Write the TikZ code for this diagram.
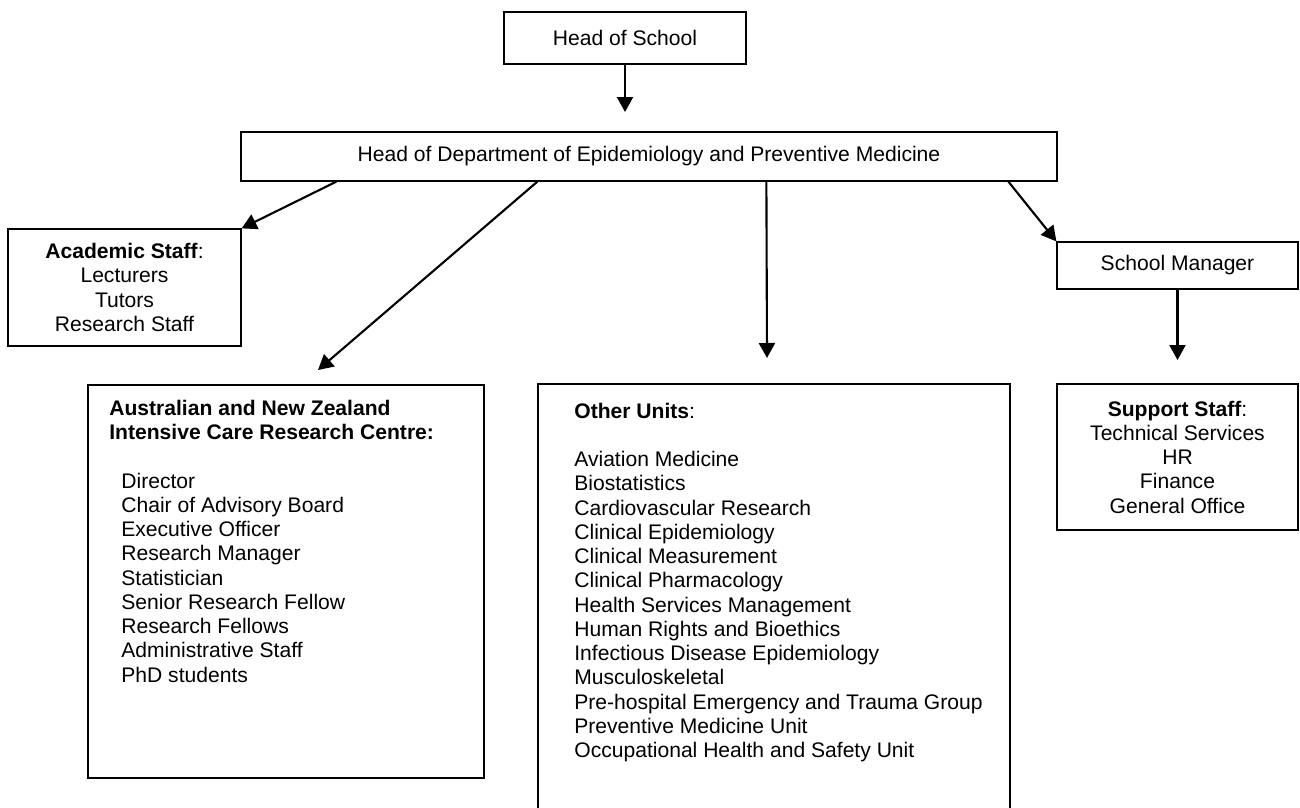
\documentclass[tikz,border=0pt]{standalone}
\usepackage{fontspec}
\setmainfont{Liberation Sans}
\usepackage{tikz}
\usetikzlibrary{arrows.meta}

\begin{document}
\begin{tikzpicture}[
  font=\fontsize{12}{13.8}\selectfont,
  box/.style={draw=black, line width=0.7pt, inner sep=0pt, align=center},
  arr/.style={-{Triangle[width=0.32cm,length=0.3cm]}, line width=1.2pt}]
\useasboundingbox (0cm,0cm) rectangle (26cm,-16.16cm);
% top of the chart
\node[box, minimum width=4.84cm, minimum height=1.04cm] (hos) at (12.5cm,-0.76cm) {Head of School};
\node[box, minimum width=16.32cm, minimum height=0.98cm] (hod) at (12.98cm,-3.13cm) {Head of Department of Epidemiology and Preventive Medicine};
% side boxes
\node[box, minimum width=4.66cm, minimum height=2.34cm] (acad) at (2.49cm,-5.75cm) {\textbf{Academic Staff}:\\Lecturers\\Tutors\\Research Staff};
\node[box, minimum width=4.82cm, minimum height=0.94cm] (sm) at (23.55cm,-5.31cm) {School Manager};
\node[box, minimum width=4.82cm, minimum height=2.92cm] (support) at (23.55cm,-9.14cm) {\textbf{Support Staff}:\\Technical Services\\HR\\Finance\\General Office};
% big boxes
\node[box, minimum width=7.92cm, minimum height=7.86cm] (anzic) at (5.72cm,-11.63cm) {};
\node[box, minimum width=9.44cm, minimum height=8.72cm] (other) at (15.48cm,-12.04cm) {};
\node[anchor=north west, inner sep=0pt, align=left] (anzicHead) at (2.18cm,-7.99cm) {\textbf{Australian and New Zealand}\\\textbf{Intensive Care Research Centre:}};
\node[anchor=north west, inner sep=0pt, align=left] (anzicList) at (2.42cm,-9.45cm) {Director\\Chair of Advisory Board\\Executive Officer\\Research Manager\\Statistician\\Senior Research Fellow\\Research Fellows\\Administrative Staff\\PhD students};
\node[anchor=north west, inner sep=0pt, align=left] (otherText) at (11.48cm,-8.05cm) {\textbf{Other Units}:\\[13.8pt]Aviation Medicine\\Biostatistics\\Cardiovascular Research\\Clinical Epidemiology\\Clinical Measurement\\Clinical Pharmacology\\Health Services Management\\Human Rights and Bioethics\\Infectious Disease Epidemiology\\Musculoskeletal\\Pre-hospital Emergency and Trauma Group\\Preventive Medicine Unit\\Occupational Health and Safety Unit};
% arrow ends
\coordinate (hosTip) at (12.5cm,-2.24cm);
\coordinate (anzicTip) at (6.36cm,-7.40cm);
\coordinate (otherTip) at (15.34cm,-7.16cm);
\coordinate (supportTip) at (23.55cm,-7.20cm);
\draw[arr] (hos.south) -- (hosTip);
\draw[arr] ([xshift=1.92cm]hod.south west) -- (acad.north east);
\draw[arr] ([xshift=5.94cm]hod.south west) -- (anzicTip);
\draw[arr] ([xshift=10.52cm]hod.south west) -- (otherTip);
\draw[arr] ([xshift=15.36cm]hod.south west) -- (sm.north west);
\draw[arr] (sm.south) -- (supportTip);
\end{tikzpicture}
\end{document}
